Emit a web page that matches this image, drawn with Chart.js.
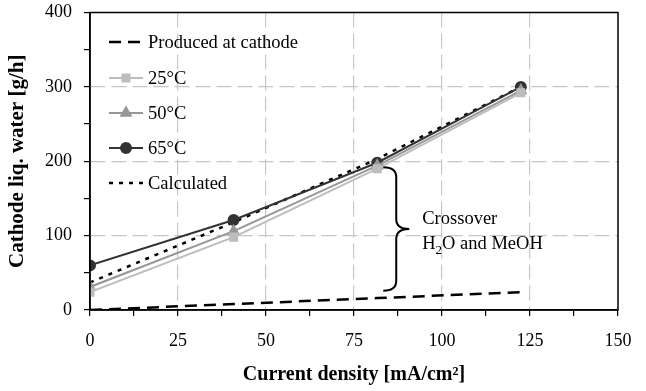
<!DOCTYPE html>
<html>
<head>
<meta charset="utf-8">
<script src="https://cdn.jsdelivr.net/npm/chart.js@4.4.0/dist/chart.umd.min.js"></script>
<style>
  html, body { margin: 0; padding: 0; background: #fff; }
  #wrap { width: 646px; height: 391px; }
</style>
</head>
<body>
<div id="wrap"><canvas id="chart"></canvas></div>
<script>
// current density [mA/cm2] of the measured points
const currentDensity = [0, 40.8, 81.6, 122.4]
// cathode liquid water [g/h]
const producedAtCathode = [0, 8, 16, 24]
const water25 = [24, 98, 190, 292]
const water50 = [31, 106, 194, 295]
const water65 = [60, 121, 198, 300]
const calculated = [37, 118, 203, 300]

const xTickLabels = [0, 25, 50, 75, 100, 125, 150]
const yTickLabels = [0, 100, 200, 300, 400]

const seriesLabels = ["Produced at cathode", "25\u00B0C", "50\u00B0C", "65\u00B0C", "Calculated"]

const SERIF = "'Liberation Serif', 'Times New Roman', serif"

const toPoints = (values) => currentDensity.map((x, i) => ({ x, y: values[i] }))

// brace between the measured curve and the produced line
const brace = { x: 87, top: 192, bottom: 26 }

const frame = {
    id: "frame",
    afterDraw(chart) {
        const { ctx, chartArea: a } = chart
        ctx.save()
        ctx.strokeStyle = "#000"
        ctx.lineWidth = 1.5
        ctx.strokeRect(a.left, a.top, a.right - a.left, a.bottom - a.top)
        ctx.restore()
    },
}

const braceNote = {
    id: "braceNote",
    afterDatasetsDraw(chart) {
        const { ctx, scales } = chart
        const xs = scales.x
        const ys = scales.y
        const stem = xs.getPixelForValue(brace.x)
        const top = ys.getPixelForValue(brace.top)
        const bottom = ys.getPixelForValue(brace.bottom)
        const mid = (top + bottom) / 2
        const w = 13
        const r = 10

        ctx.save()
        ctx.strokeStyle = "#000"
        ctx.lineWidth = 2
        ctx.beginPath()
        ctx.moveTo(stem - w, top)
        ctx.quadraticCurveTo(stem, top, stem, top + r)
        ctx.lineTo(stem, mid - r)
        ctx.quadraticCurveTo(stem, mid, stem + w, mid)
        ctx.quadraticCurveTo(stem, mid, stem, mid + r)
        ctx.lineTo(stem, bottom - r)
        ctx.quadraticCurveTo(stem, bottom, stem - w, bottom)
        ctx.stroke()

        // label with subscript 2 in H2O
        const tx = stem + 26
        ctx.fillStyle = "#000"
        ctx.textBaseline = "alphabetic"
        ctx.font = "18.5px " + SERIF
        ctx.fillText("Crossover", tx, mid - 5)
        let x = tx
        const y2 = mid + 20
        ctx.fillText("H", x, y2)
        x += ctx.measureText("H").width
        ctx.font = "13px " + SERIF
        ctx.fillText("2", x, y2 + 5)
        x += ctx.measureText("2").width
        ctx.font = "18.5px " + SERIF
        ctx.fillText("O and MeOH", x, y2)
        ctx.restore()
    },
}

const insideLegend = {
    id: "insideLegend",
    afterDraw(chart) {
        const { ctx, chartArea: a } = chart
        const x0 = a.left + 19
        const x1 = x0 + 34
        const rows = [42, 78, 113, 148, 183]
        ctx.save()
        chart.data.datasets.forEach((ds, i) => {
            const y = rows[i]
            ctx.strokeStyle = ds.borderColor
            ctx.lineWidth = ds.borderWidth
            ctx.setLineDash(ds.borderDash || [])
            ctx.beginPath()
            ctx.moveTo(x0, y)
            ctx.lineTo(x1, y)
            ctx.stroke()
            ctx.setLineDash([])
            if (ds.pointRadius > 0) {
                Chart.helpers.drawPoint(ctx, {
                    pointStyle: ds.pointStyle,
                    radius: ds.pointRadius,
                    rotation: 0,
                    borderWidth: 1,
                }, (x0 + x1) / 2, y)
                ctx.fillStyle = ds.pointBackgroundColor
                ctx.strokeStyle = ds.pointBackgroundColor
                ctx.fill()
            }
            ctx.fillStyle = "#000"
            ctx.font = "18.5px " + SERIF
            ctx.textBaseline = "middle"
            ctx.fillText(ds.label, x1 + 5, y + 1)
        })
        ctx.restore()
    },
}

const lineSet = (label, values, color, width, dash, style, radius) => ({
    label,
    data: toPoints(values),
    borderColor: color,
    backgroundColor: color,
    pointBackgroundColor: color,
    pointBorderColor: color,
    borderWidth: width,
    borderDash: dash,
    pointStyle: style,
    pointRadius: radius,
    pointHoverRadius: radius,
    tension: 0,
    fill: false,
})

// only every other tick gets a label and a dashed gridline, the rest are minor ticks
const gridColor = (labels, first, last) => (ctx) => {
    const v = ctx.tick && ctx.tick.value
    if (v === first || v === last) return "rgba(0,0,0,0)"
    return labels.includes(v) ? "#c6c6c6" : "rgba(0,0,0,0)"
}

const config = {
    type: "line",
    data: {
        datasets: [
            lineSet(seriesLabels[0], producedAtCathode, "#000", 2.5, [12, 7], "circle", 0),
            lineSet(seriesLabels[1], water25, "#bdbdbd", 2, [], "rect", 5),
            lineSet(seriesLabels[2], water50, "#979797", 2, [], "triangle", 5.5),
            lineSet(seriesLabels[3], water65, "#333333", 2, [], "circle", 5),
            lineSet(seriesLabels[4], calculated, "#000", 2.5, [4, 6], "circle", 0),
        ],
    },
    options: {
        responsive: true,
        maintainAspectRatio: false,
        animation: false,
        layout: {
            padding: { top: 12.5, right: 28, left: 0, bottom: 0 },
        },
        plugins: {
            legend: { display: false },
            tooltip: { enabled: false },
        },
        scales: {
            x: {
                type: "linear",
                min: 0,
                max: 150,
                afterFit: (scale) => {
                    scale.height = 81
                    scale.paddingLeft = 0
                    scale.paddingRight = 0
                },
                afterBuildTicks: (scale) => {
                    const ticks = []
                    for (let v = 0; v <= 150; v += 12.5) ticks.push({ value: v })
                    scale.ticks = ticks
                },
                border: { display: true, color: "#000", width: 1.5, dash: [15, 6] },
                grid: {
                    drawOnChartArea: true,
                    tickLength: 6,
                    tickColor: "#000",
                    tickWidth: 1.2,
                    tickBorderDash: [],
                    lineWidth: 1.2,
                    color: gridColor(xTickLabels, 0, 150),
                },
                ticks: {
                    autoSkip: false,
                    maxRotation: 0,
                    padding: 14,
                    color: "#000",
                    font: { family: SERIF, size: 18 },
                    callback: (v) => (xTickLabels.includes(v) ? String(v) : ""),
                },
                title: {
                    display: true,
                    text: "Current density [mA/cm\u00B2]",
                    color: "#000",
                    font: { family: SERIF, size: 20, weight: "bold" },
                    padding: { top: 0, bottom: 4 },
                },
            },
            y: {
                type: "linear",
                min: 0,
                max: 400,
                afterFit: (scale) => {
                    scale.width = 90
                    scale.paddingTop = 0
                    scale.paddingBottom = 0
                },
                afterBuildTicks: (scale) => {
                    const ticks = []
                    for (let v = 0; v <= 400; v += 50) ticks.push({ value: v })
                    scale.ticks = ticks
                },
                border: { display: true, color: "#000", width: 1.5, dash: [15, 6] },
                grid: {
                    drawOnChartArea: true,
                    tickLength: 6,
                    tickColor: "#000",
                    tickWidth: 1.2,
                    tickBorderDash: [],
                    lineWidth: 1.2,
                    color: gridColor(yTickLabels, 0, 400),
                },
                ticks: {
                    autoSkip: false,
                    padding: 12,
                    color: "#000",
                    font: { family: SERIF, size: 18 },
                    callback: (v) => (yTickLabels.includes(v) ? String(v) : ""),
                },
                title: {
                    display: true,
                    text: "Cathode liq. water [g/h]",
                    color: "#000",
                    font: { family: SERIF, size: 21, weight: "bold" },
                    padding: { top: 5, bottom: 0 },
                },
            },
        },
    },
    plugins: [frame, braceNote, insideLegend],
}

new Chart(document.getElementById("chart"), config)
</script>
</body>
</html>
